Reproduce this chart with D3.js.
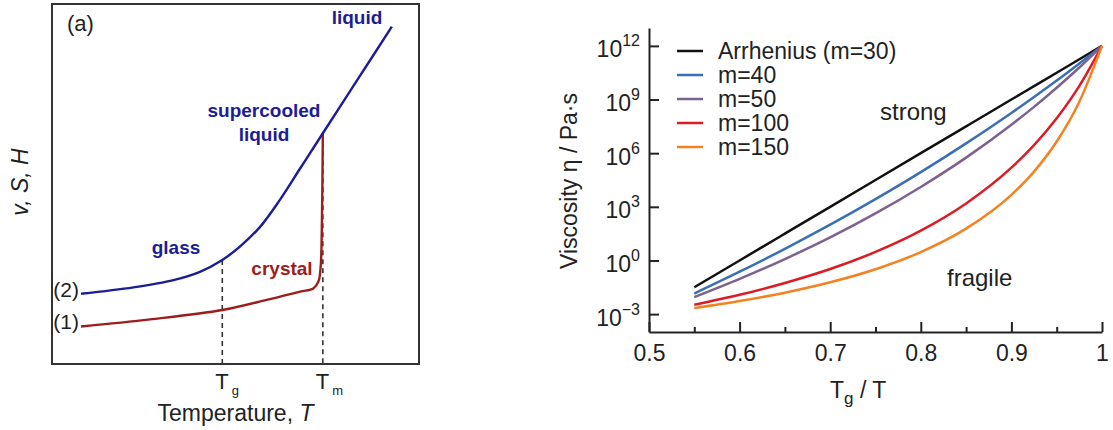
<!DOCTYPE html>
<html>
<head>
<meta charset="utf-8">
<script src="https://cdn.jsdelivr.net/npm/d3@7"></script>
<style>
  html, body { margin: 0; padding: 0; background: #fff; }
  svg { display: block; font-family: Arial, "Liberation Sans", Helvetica, sans-serif; }
</style>
</head>
<body>
<svg id="chart" width="1113" height="430"></svg>
<script>
// ---------- Panel (a): schematic v, S, H versus temperature ----------
// points are [temperature, property] in arbitrary schematic units (0..100)
const liquidGlassCurve = [[7.9,19.5],[22.2,21.3],[33.1,23.3],[40.3,25.6],[46.4,28.9],[51.2,32.6],[56.7,38.1],[62.1,45.6],[67.6,54.3],[73.8,64.1],[83.2,78.9],[92.6,93.7]];
const crystalCurve = [[7.9,10.4],[26.7,12.4],[46.4,15.0],[58.5,17.8],[67.6,20.1],[71.2,21.0],[72.6,22.9],[73.2,27.0],[73.5,36.3],[73.8,64.1]];
const transitionNames = ["g", "m"];
const transitionTemps = [46.4, 73.8];
const transitionLevels = [28.9, 64.1];

// ---------- Panel (b): viscosity versus Tg/T ----------
const tgOverT = [0.55, 0.60, 0.65, 0.70, 0.75, 0.80, 0.85, 0.90, 0.925, 0.95, 0.975, 1.0];
const logEtaM30  = [-1.50, 0.00, 1.50, 3.00, 4.50, 6.00, 7.50, 9.00, 9.75, 10.50, 11.25, 12];
const logEtaM40  = [-1.85, -0.63, 0.65, 2.00, 3.43, 4.94, 6.55, 8.25, 9.14, 10.06, 11.02, 12];
const logEtaM50  = [-2.05, -1.03, 0.08, 1.29, 2.63, 4.11, 5.75, 7.59, 8.59, 9.66, 10.79, 12];
const logEtaM100 = [-2.48, -1.92, -1.26, -0.48, 0.48, 1.67, 3.19, 5.19, 6.45, 7.95, 9.76, 12];
const logEtaM150 = [-2.66, -2.27, -1.80, -1.22, -0.49, 0.47, 1.78, 3.67, 4.97, 6.65, 8.88, 12];
const seriesLabels = ["Arrhenius (m=30)", "m=40", "m=50", "m=100", "m=150"];
const yTickValues = [1e-3, 1e0, 1e3, 1e6, 1e9, 1e12];
const xMajorTicks = [0.5, 0.6, 0.7, 0.8, 0.9, 1.0];
const xMinorTicks = [0.55, 0.65, 0.75, 0.85, 0.95];

const seriesColors = ["#111111", "#3b6fb4", "#7d6190", "#dc1b24", "#f5811f"];
const inkColor = "#222";

const svg = d3.select("#chart");

// ======================= Panel (a) =======================
const blueInk = "#1c1c96";
const redInk = "#9d1c1c";
const xA = d3.scaleLinear().domain([0, 100]).range([52, 419]);
const yA = d3.scaleLinear().domain([0, 100]).range([364, 4]);
const gA = svg.append("g");

gA.append("rect")
  .attr("x", xA(0)).attr("y", yA(100))
  .attr("width", xA(100) - xA(0)).attr("height", yA(0) - yA(100))
  .attr("fill", "none").attr("stroke", "#333").attr("stroke-width", 2);

// dashed drop lines at Tg and Tm
transitionTemps.forEach((T, i) => {
  gA.append("line")
    .attr("x1", xA(T)).attr("x2", xA(T))
    .attr("y1", yA(transitionLevels[i])).attr("y2", yA(0))
    .attr("stroke", "#333").attr("stroke-width", 1.6)
    .attr("stroke-dasharray", "5,4");
});

const lineA = d3.line().x(d => xA(d[0])).y(d => yA(d[1])).curve(d3.curveCatmullRom.alpha(0.5));
gA.append("path").attr("d", lineA(crystalCurve))
  .attr("fill", "none").attr("stroke", redInk).attr("stroke-width", 2.4);
gA.append("path").attr("d", lineA(liquidGlassCurve))
  .attr("fill", "none").attr("stroke", blueInk).attr("stroke-width", 2.4);

// labels
gA.append("text").attr("x", 67).attr("y", 31).attr("font-size", 22).attr("fill", inkColor).text("(a)");
gA.append("text").attr("x", 79).attr("y", 297).attr("text-anchor", "end").attr("font-size", 21).attr("fill", inkColor).text("(2)");
gA.append("text").attr("x", 79).attr("y", 329).attr("text-anchor", "end").attr("font-size", 21).attr("fill", inkColor).text("(1)");

const boldLabels = [
  { text: "liquid", x: 357, y: 24, c: blueInk },
  { text: "supercooled", x: 264, y: 117, c: blueInk },
  { text: "liquid", x: 264, y: 141, c: blueInk },
  { text: "glass", x: 176, y: 254, c: blueInk },
  { text: "crystal", x: 282, y: 275, c: redInk }
];
boldLabels.forEach(l => {
  gA.append("text").attr("x", l.x).attr("y", l.y)
    .attr("text-anchor", "middle").attr("font-size", 19).attr("font-weight", "bold")
    .attr("fill", l.c).text(l.text);
});

transitionTemps.forEach((T, i) => {
  const t = gA.append("text").attr("x", xA(T) - 7).attr("y", 389)
    .attr("font-size", 22).attr("fill", inkColor);
  t.append("tspan").text("T");
  t.append("tspan").attr("dx", 3).attr("dy", 6).attr("font-size", 13).text(transitionNames[i]);
});

const xlabA = gA.append("text").attr("x", (xA(0) + xA(100)) / 2).attr("y", 421)
  .attr("text-anchor", "middle").attr("font-size", 23).attr("fill", inkColor);
xlabA.append("tspan").text("Temperature, ");
xlabA.append("tspan").attr("font-style", "italic").text("T");

gA.append("text")
  .attr("transform", "translate(28,182) rotate(-90)")
  .attr("text-anchor", "middle").attr("font-size", 23).attr("font-style", "italic")
  .attr("fill", inkColor).text("v, S, H");

// ======================= Panel (b) =======================
const xB = d3.scaleLinear().domain([0.5, 1.0]).range([649, 1102]);
const yB = d3.scaleLog().domain([1e-4, 1e13]).range([332, 28]);
const gB = svg.append("g");

const allSeries = [logEtaM30, logEtaM40, logEtaM50, logEtaM100, logEtaM150];
const lineB = d3.line()
  .x((d, i) => xB(tgOverT[i]))
  .y(d => yB(Math.pow(10, d)))
  .curve(d3.curveMonotoneX);

allSeries.forEach((s, k) => {
  gB.append("path").attr("d", lineB(s))
    .attr("fill", "none").attr("stroke", seriesColors[k]).attr("stroke-width", 2.5);
});

// x axis: major and minor inward ticks
const xAxisMajor = d3.axisBottom(xB).tickValues(xMajorTicks).tickSize(-10).tickSizeOuter(0)
  .tickPadding(13).tickFormat(d => d === 1 ? "1" : d3.format(".1f")(d));
const gx = gB.append("g").attr("transform", "translate(0,332)").call(xAxisMajor);
const xAxisMinor = d3.axisBottom(xB).tickValues(xMinorTicks).tickSize(-5).tickSizeOuter(0).tickFormat("");
const gxm = gB.append("g").attr("transform", "translate(0,332)").call(xAxisMinor);
gxm.select(".domain").remove();

// y axis: decades every 10^3
const yAxis = d3.axisLeft(yB).tickValues(yTickValues).tickSize(-10).tickSizeOuter(0).tickPadding(10);
const gy = gB.append("g").attr("transform", "translate(649,0)").call(yAxis);

[gx, gxm, gy].forEach(g => {
  g.attr("font-family", null).attr("font-size", 23);
  g.selectAll("path, line").attr("stroke", inkColor).attr("stroke-width", 2);
  g.selectAll("text").attr("fill", inkColor);
});

gy.selectAll(".tick text").each(function (d) {
  const e = Math.round(Math.log10(d));
  const t = d3.select(this);
  t.text(null).attr("dy", null).attr("y", 11).attr("x", -9);
  t.append("tspan").text("10");
  t.append("tspan").attr("dy", -11).attr("font-size", 16).text(e < 0 ? "\u2212" + (-e) : String(e));
});

// axis titles
const xlabB = gB.append("text").attr("x", 830).attr("y", 398).attr("font-size", 23).attr("fill", inkColor);
xlabB.append("tspan").text("T");
xlabB.append("tspan").attr("dy", 6).attr("font-size", 17).text("g");
xlabB.append("tspan").attr("dy", -6).text(" / T");

gB.append("text")
  .attr("transform", "translate(577,181) rotate(-90)")
  .attr("text-anchor", "middle").attr("font-size", 23).attr("fill", inkColor)
  .text("Viscosity \u03b7 / Pa\u00b7s");

// legend
seriesLabels.forEach((lab, k) => {
  const y = 51 + k * 24;
  gB.append("line").attr("x1", 677).attr("x2", 703).attr("y1", y).attr("y2", y)
    .attr("stroke", seriesColors[k]).attr("stroke-width", 2.5);
  gB.append("text").attr("x", 718).attr("y", y + 8).attr("font-size", 23)
    .attr("fill", inkColor).text(lab);
});

gB.append("text").attr("x", 880).attr("y", 120).attr("font-size", 24).attr("fill", inkColor).text("strong");
gB.append("text").attr("x", 947).attr("y", 286).attr("font-size", 24).attr("fill", inkColor).text("fragile");
</script>
</body>
</html>
